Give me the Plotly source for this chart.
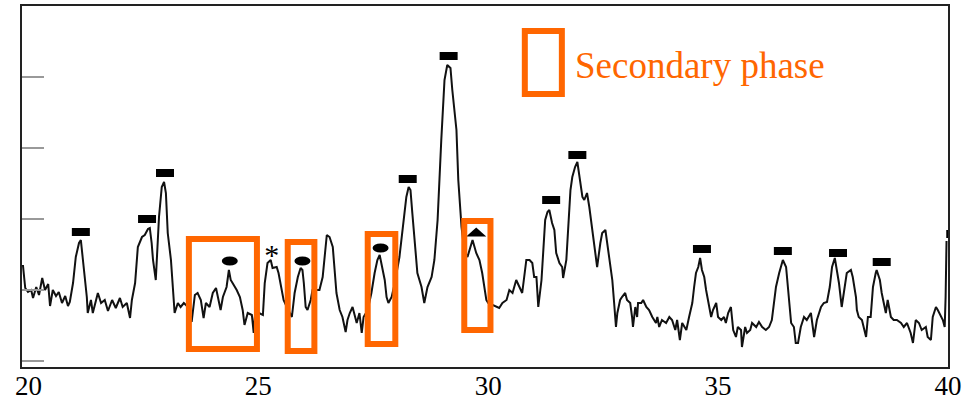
import plotly.graph_objects as go

# ---------------- data ----------------
two_theta = [19.88, 19.93, 19.99, 20.06, 20.10, 20.17, 20.23, 20.30, 20.36, 20.43, 20.47, 20.53, 20.60, 20.66, 20.73, 20.80, 20.86, 20.90,
             20.97, 21.03, 21.10, 21.14, 21.19, 21.23, 21.27, 21.29, 21.36, 21.40, 21.51, 21.58, 21.66, 21.73, 21.82, 21.90, 21.99, 22.05,
             22.14, 22.21, 22.25, 22.32, 22.38, 22.47, 22.53, 22.60, 22.64, 22.68, 22.71, 22.77, 22.79, 22.84, 22.90, 22.95, 22.99, 23.03,
             23.10, 23.14, 23.18, 23.25, 23.31, 23.38, 23.47, 23.55, 23.62, 23.68, 23.75, 23.81, 23.86, 23.94, 24.01, 24.08, 24.12, 24.18,
             24.23, 24.31, 24.36, 24.40, 24.44, 24.53, 24.60, 24.66, 24.70, 24.77, 24.86, 24.90, 24.94, 25.01, 25.10, 25.14, 25.20, 25.27,
             25.31, 25.40, 25.44, 25.51, 25.55, 25.62, 25.73, 25.79, 25.86, 25.92, 25.96, 25.99, 26.03, 26.07, 26.14, 26.18, 26.33, 26.40,
             26.49, 26.55, 26.62, 26.66, 26.70, 26.77, 26.83, 26.90, 26.94, 26.99, 27.05, 27.14, 27.20, 27.25, 27.29, 27.38, 27.46, 27.53,
             27.59, 27.64, 27.70, 27.75, 27.79, 27.83, 27.90, 27.96, 28.07, 28.14, 28.22, 28.27, 28.31, 28.35, 28.42, 28.46, 28.55, 28.61,
             28.68, 28.77, 28.83, 28.90, 28.98, 29.05, 29.11, 29.18, 29.22, 29.31, 29.35, 29.42, 29.48, 29.55, 29.64, 29.66, 29.74, 29.81,
             29.87, 29.96, 30.00, 30.18, 30.24, 30.31, 30.40, 30.46, 30.53, 30.61, 30.68, 30.74, 30.83, 30.90, 30.96, 31.00, 31.05, 31.09,
             31.16, 31.20, 31.24, 31.29, 31.33, 31.39, 31.44, 31.48, 31.55, 31.61, 31.63, 31.70, 31.74, 31.79, 31.83, 31.89, 31.94, 32.00,
             32.05, 32.09, 32.15, 32.20, 32.26, 32.31, 32.37, 32.44, 32.48, 32.55, 32.59, 32.65, 32.70, 32.74, 32.78, 32.81, 32.87, 32.91,
             32.98, 33.02, 33.09, 33.13, 33.15, 33.20, 33.24, 33.26, 33.33, 33.37, 33.44, 33.50, 33.57, 33.65, 33.68, 33.72, 33.78, 33.87,
             33.94, 34.00, 34.07, 34.11, 34.17, 34.22, 34.31, 34.37, 34.44, 34.48, 34.52, 34.57, 34.61, 34.65, 34.70, 34.74, 34.80, 34.85,
             34.89, 34.96, 35.00, 35.07, 35.13, 35.17, 35.22, 35.28, 35.33, 35.39, 35.43, 35.50, 35.52, 35.59, 35.63, 35.70, 35.74, 35.83,
             35.89, 35.96, 36.04, 36.11, 36.17, 36.22, 36.26, 36.33, 36.39, 36.41, 36.48, 36.52, 36.59, 36.65, 36.69, 36.74, 36.80, 36.87,
             36.93, 37.02, 37.09, 37.15, 37.24, 37.30, 37.37, 37.43, 37.48, 37.54, 37.59, 37.63, 37.69, 37.76, 37.80, 37.89, 37.93, 38.00,
             38.02, 38.06, 38.13, 38.22, 38.26, 38.32, 38.37, 38.43, 38.45, 38.52, 38.56, 38.65, 38.69, 38.76, 38.82, 38.89, 38.98, 39.04,
             39.11, 39.19, 39.24, 39.30, 39.37, 39.43, 39.52, 39.56, 39.63, 39.67, 39.74, 39.78, 39.85, 39.89, 39.93, 39.95, 39.97]
intensity = [96, 73, 69, 71, 63, 74, 66, 83, 71, 77, 55, 71, 65, 69, 58, 65, 55, 59,
             78, 104, 118, 121, 99, 84, 64, 48, 61, 48, 68, 58, 61, 50, 61, 53, 63, 54,
             58, 43, 61, 78, 114, 124, 126, 132, 133, 118, 101, 81, 101, 144, 174, 179, 168, 128,
             101, 71, 48, 58, 54, 58, 54, 39, 66, 68, 61, 43, 58, 54, 68, 73, 64, 51,
             64, 74, 91, 81, 78, 71, 64, 51, 36, 48, 46, 28, 54, 48, 46, 78, 98, 101,
             93, 94, 88, 71, 61, 54, 44, 68, 84, 93, 91, 78, 54, 51, 61, 71, 71, 84,
             126, 124, 114, 91, 68, 51, 44, 29, 41, 48, 54, 38, 48, 28, 44, 51, 68, 88,
             101, 106, 94, 81, 64, 58, 64, 76, 104, 134, 164, 174, 171, 148, 114, 88, 74, 58,
             74, 84, 101, 141, 221, 281, 296, 293, 271, 231, 181, 134, 111, 104, 118, 121, 108, 101,
             88, 61, 58, 54, 53, 58, 61, 71, 68, 81, 74, 68, 101, 101, 98, 84, 84, 54,
             81, 111, 141, 149, 151, 138, 131, 108, 98, 94, 83, 101, 131, 171, 184, 194, 199, 181,
             164, 161, 168, 154, 131, 114, 94, 118, 128, 131, 118, 94, 81, 58, 34, 48, 61, 64,
             68, 61, 58, 44, 34, 54, 44, 58, 58, 61, 54, 51, 44, 38, 44, 34, 41, 38,
             44, 41, 31, 41, 21, 38, 31, 44, 58, 74, 88, 94, 103, 91, 84, 71, 58, 44,
             51, 58, 44, 41, 44, 38, 48, 54, 31, 24, 34, 31, 14, 34, 28, 31, 38, 34,
             39, 34, 31, 34, 41, 58, 74, 88, 98, 101, 94, 71, 38, 34, 18, 18, 34, 44,
             41, 48, 24, 41, 54, 58, 59, 74, 94, 103, 91, 78, 54, 74, 88, 91, 84, 64,
             51, 44, 41, 24, 44, 44, 74, 88, 91, 81, 68, 48, 61, 44, 41, 41, 38, 34,
             38, 28, 18, 41, 38, 31, 34, 24, 21, 44, 54, 51, 44, 41, 34, 64, 120]

# phase markers (peak position 2-theta, marker height)
main_phase_2theta = [21.14, 22.58, 22.97, 28.25, 29.14, 31.37, 31.94, 34.65, 36.41, 37.61, 38.56, 40.16]
main_phase_I = [129, 142, 188, 182, 305, 161, 206, 112, 110, 108, 99, 127]
dot_phase_2theta = [24.38, 25.96, 27.66]
dot_phase_I = [100, 100, 113]
tri_phase_2theta = [29.74]
tri_phase_I = [129]
star_2theta = [25.29]
star_I = [104]

# secondary-phase highlight boxes (2-theta range, intensity range)
box_2theta = [(23.49, 24.97), (25.64, 26.22), (27.38, 27.98), (29.48, 30.05)]
box_I = [(12, 122), (10, 119), (17, 127), (31, 140)]

legend_text = "Secondary phase"
x_ticks = [20, 25, 30, 35, 40]
y_ticks = [0, 71, 142, 213, 284]

ORANGE = "#FF6600"
SERIF = "Liberation Serif, Times New Roman, serif"

fig = go.Figure()
fig.add_trace(go.Scatter(x=two_theta, y=intensity, mode="lines",
                         line=dict(color="#111111", width=2), hoverinfo="skip"))
fig.add_trace(go.Scatter(x=star_2theta, y=star_I, mode="text", text=["*"],
                         textfont=dict(family=SERIF, size=30, color="black"),
                         textposition="middle center", hoverinfo="skip"))

shapes = []
for x, y in zip(main_phase_2theta, main_phase_I):
    shapes.append(dict(type="rect", xref="x", yref="y", xsizemode="pixel", ysizemode="pixel",
                       xanchor=x, yanchor=y, x0=-9, x1=9, y0=-4, y1=4,
                       fillcolor="black", line=dict(width=0)))
for x, y in zip(dot_phase_2theta, dot_phase_I):
    shapes.append(dict(type="circle", xref="x", yref="y", xsizemode="pixel", ysizemode="pixel",
                       xanchor=x, yanchor=y, x0=-8, x1=8, y0=-4.5, y1=4.5,
                       fillcolor="black", line=dict(width=0)))
for x, y in zip(tri_phase_2theta, tri_phase_I):
    shapes.append(dict(type="path", xref="x", yref="y", xsizemode="pixel", ysizemode="pixel",
                       xanchor=x, yanchor=y, path="M -10 -4.5 L 10 -4.5 L 0 4.5 Z",
                       fillcolor="black", line=dict(width=0)))
for (xa, xb), (ya, yb) in zip(box_2theta, box_I):
    shapes.append(dict(type="rect", xref="x", yref="y", x0=xa, x1=xb, y0=ya, y1=yb,
                       line=dict(color=ORANGE, width=6), fillcolor="rgba(0,0,0,0)"))
# legend key box
shapes.append(dict(type="rect", xref="paper", yref="paper", x0=0.543, x1=0.583, y0=0.756, y1=0.931,
                   line=dict(color=ORANGE, width=6), fillcolor="rgba(0,0,0,0)"))

fig.update_layout(
    width=971, height=401,
    margin=dict(l=22, r=23, t=6, b=34, autoexpand=False),
    paper_bgcolor="white", plot_bgcolor="white",
    showlegend=False,
    shapes=shapes,
    annotations=[dict(text=legend_text, xref="paper", yref="paper", x=0.595, y=0.834,
                      xanchor="left", yanchor="middle", showarrow=False,
                      font=dict(family=SERIF, size=37, color=ORANGE))],
    xaxis=dict(range=[19.86, 40.002], tickvals=x_ticks, ticks="", showgrid=False, zeroline=False,
               showline=True, linecolor="#222", linewidth=1.5, mirror=True, automargin=False,
               ticklabelstandoff=-6,
               tickfont=dict(family=SERIF, size=27, color="black")),
    yaxis=dict(range=[-6, 355], tickvals=y_ticks, ticks="inside", ticklen=22, tickcolor="#999",
               tickwidth=1.5, showticklabels=False, showgrid=False, zeroline=False,
               showline=True, linecolor="#222", linewidth=1.5, mirror=True, automargin=False),
)

fig.write_html("out.html", config={"displayModeBar": False},
               post_script="document.body.style.margin='0';document.body.style.overflow='hidden';")
